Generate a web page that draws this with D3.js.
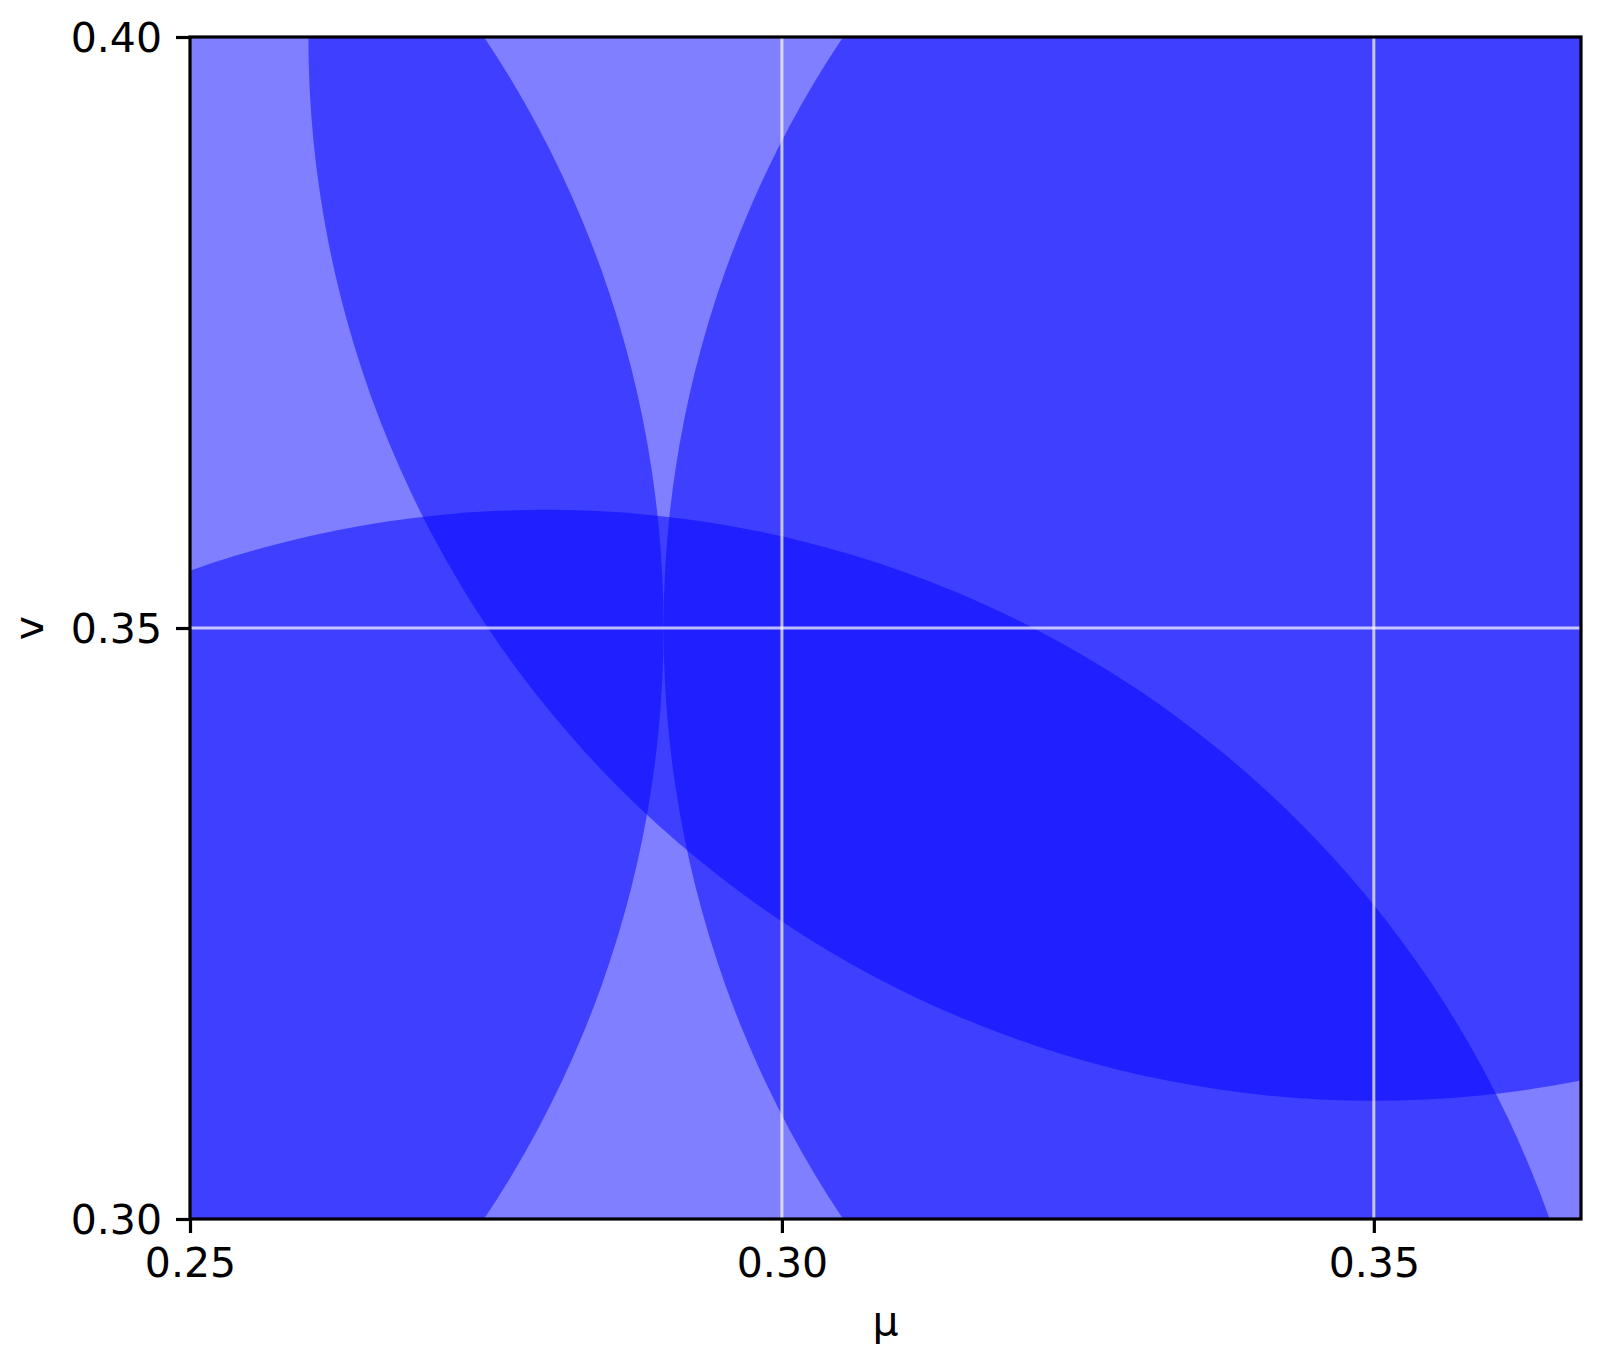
<!DOCTYPE html>
<html lang="en">
<head>
    <meta charset="UTF-8">
    <title>mu-v regions</title>
    <style>
        body { margin: 0; background: #fff; }
        text { font-family: "DejaVu Sans", sans-serif; fill: #000; }
    </style>
</head>
<body>
    <script src="https://d3js.org/d3.v7.min.js"></script>
    <script>
        // axis ticks
        const muTicks = [0.25, 0.30, 0.35];
        const nuTicks = [0.30, 0.35, 0.40];

        // discs (centre mu, centre v, radius)
        const centerMu = [0.20, 0.38, 0.35, 0.28];
        const centerNu = [0.35, 0.35, 0.40, 0.27];
        const radius   = [0.09, 0.09, 0.09, 0.09];

        const width = 1600,
            height = 1363,
            margin = { top: 37, right: 19, bottom: 144, left: 190 },
            muMin = 0.25, muMax = 0.3675,
            nuMin = 0.30, nuMax = 0.40;

        const x = d3.scaleLinear().domain([muMin, muMax]).range([margin.left, width - margin.right]);
        const y = d3.scaleLinear().domain([nuMin, nuMax]).range([height - margin.bottom, margin.top]);

        const svg = d3.select('body').append('svg')
            .attr('width', width).attr('height', height);

        svg.append('clipPath').attr('id', 'plot')
            .append('rect')
            .attr('x', x(muMin)).attr('y', y(nuMax))
            .attr('width', x(muMax) - x(muMin)).attr('height', y(nuMin) - y(nuMax));

        const discs = centerMu.map((m, i) => ({ mu: m, nu: centerNu[i], r: radius[i] }));

        svg.append('g')
            .attr('clip-path', 'url(#plot)')
            .selectAll('ellipse')
            .data(discs)
            .enter().append('ellipse')
            .attr('cx', d => x(d.mu))
            .attr('cy', d => y(d.nu))
            .attr('rx', d => x(d.mu + d.r) - x(d.mu))
            .attr('ry', d => y(d.nu) - y(d.nu + d.r))
            .attr('fill', 'blue')
            .attr('fill-opacity', 0.5);

        // grid
        const grid = svg.append('g')
            .attr('stroke', '#fff')
            .attr('stroke-opacity', 0.7)
            .attr('stroke-width', 3);
        grid.selectAll('.gx').data(muTicks.slice(1)).enter().append('line')
            .attr('x1', d => x(d)).attr('x2', d => x(d))
            .attr('y1', y(nuMin)).attr('y2', y(nuMax));
        grid.selectAll('.gy').data(nuTicks.slice(1, 2)).enter().append('line')
            .attr('x1', x(muMin)).attr('x2', x(muMax))
            .attr('y1', d => y(d)).attr('y2', d => y(d));

        // axes
        const xAxis = d3.axisBottom(x).tickValues(muTicks).tickFormat(d3.format('.2f'))
            .tickSize(14).tickPadding(14);
        const yAxis = d3.axisLeft(y).tickValues(nuTicks).tickFormat(d3.format('.2f'))
            .tickSize(14).tickPadding(14);

        const gx = svg.append('g')
            .attr('transform', `translate(0,${y(nuMin)})`)
            .call(xAxis);
        const gy = svg.append('g')
            .attr('transform', `translate(${x(muMin)},0)`)
            .call(yAxis);

        [gx, gy].forEach(g => {
            g.select('.domain').remove();
            g.selectAll('.tick line').attr('stroke', '#000').attr('stroke-width', 3.2);
            g.selectAll('.tick text')
                .style('font-family', '"DejaVu Sans", sans-serif')
                .style('font-size', '41px')
                .attr('fill', '#000');
        });
        gx.selectAll('.tick text').attr('dy', '0.72em');
        gy.selectAll('.tick text').attr('dy', '0.36em');

        // frame
        svg.append('rect')
            .attr('x', x(muMin)).attr('y', y(nuMax))
            .attr('width', x(muMax) - x(muMin)).attr('height', y(nuMin) - y(nuMax))
            .attr('fill', 'none')
            .attr('stroke', '#000')
            .attr('stroke-width', 3.2);

        // labels
        svg.append('text')
            .attr('x', (x(muMin) + x(muMax)) / 2)
            .attr('y', 1335)
            .attr('text-anchor', 'middle')
            .style('font-size', '41px')
            .text('μ');

        svg.append('text')
            .attr('transform', `translate(43,${(y(nuMin) + y(nuMax)) / 2}) rotate(-90)`)
            .attr('text-anchor', 'middle')
            .style('font-size', '41px')
            .text('v');
    </script>
</body>
</html>
